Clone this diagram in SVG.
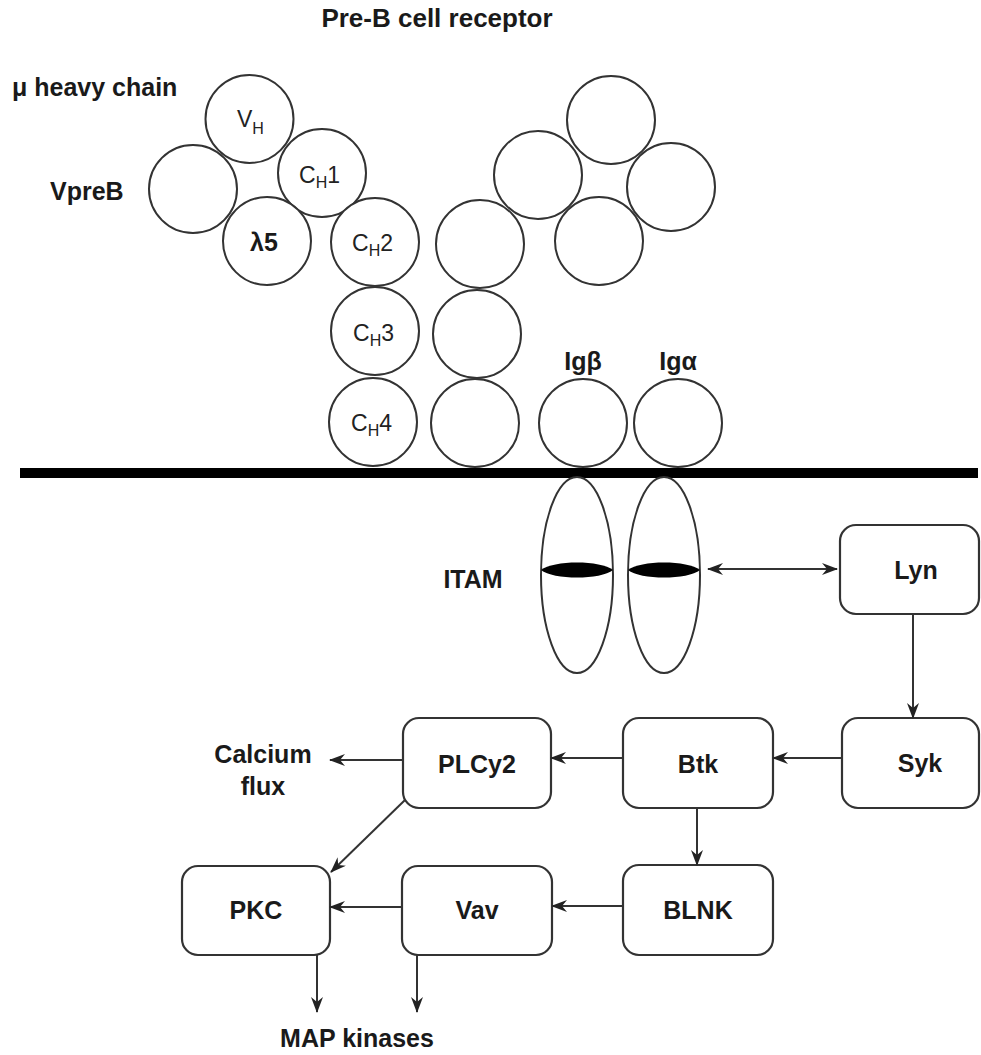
<svg xmlns="http://www.w3.org/2000/svg" width="981" height="1055" viewBox="0 0 981 1055">
<style>
.c{fill:#fff;stroke:#333;stroke-width:2}
.b{fill:#fff;stroke:#333;stroke-width:2.2}
.t{font-family:"Liberation Sans",Arial,sans-serif;fill:#1a1a1a}
.bold{font-weight:bold;font-size:25px}
.reg{font-size:23px;fill:#222}
.ln{fill:none;stroke:#333;stroke-width:2}
</style>
<defs>
<marker id="ah" viewBox="0 0 16 12" refX="15" refY="6" markerWidth="16" markerHeight="12" markerUnits="userSpaceOnUse" orient="auto-start-reverse">
<path d="M0,0 L16,6 L0,12 L5,6 z" fill="#222"/>
</marker>
</defs>
<rect width="981" height="1055" fill="#fff"/>
<text class="t bold" x="437" y="27" text-anchor="middle" style="font-size:26px">Pre-B cell receptor</text>
<text class="t bold" x="12" y="96">μ heavy chain</text>
<text class="t bold" x="50" y="200">VpreB</text>
<g id="heavy-left">
<circle id="VpreB" class="c" cx="193" cy="189" r="44"/>
<circle id="VH" class="c" cx="249.5" cy="119" r="44"/>
<circle id="CH1" class="c" cx="322" cy="173" r="44"/>
<circle id="l5" class="c" cx="267" cy="241" r="44"/>
<circle id="CH2" class="c" cx="375" cy="242" r="44"/>
<circle id="CH3" class="c" cx="375" cy="331" r="44"/>
<circle id="CH4" class="c" cx="373" cy="422" r="44"/>
<text class="t reg" x="237" y="127">V<tspan font-size="16" dy="7">H</tspan></text>
<text class="t reg" x="299" y="183">C<tspan font-size="16" dy="5">H</tspan><tspan dy="-5">1</tspan></text>
<text class="t bold" x="264" y="251" text-anchor="middle">λ5</text>
<text class="t reg" x="352" y="251">C<tspan font-size="16" dy="5">H</tspan><tspan dy="-5">2</tspan></text>
<text class="t reg" x="353" y="341">C<tspan font-size="16" dy="5">H</tspan><tspan dy="-5">3</tspan></text>
<text class="t reg" x="351" y="431">C<tspan font-size="16" dy="5">H</tspan><tspan dy="-5">4</tspan></text>
</g>
<g id="heavy-right">
<circle class="c" cx="538" cy="175" r="44"/>
<circle class="c" cx="611" cy="120" r="44"/>
<circle class="c" cx="671" cy="187" r="44"/>
<circle class="c" cx="599" cy="241" r="44"/>
<circle class="c" cx="480" cy="244" r="44"/>
<circle class="c" cx="477" cy="334" r="44"/>
<circle class="c" cx="475" cy="423" r="44"/>
</g>
<g id="Igb">
<circle class="c" cx="583" cy="423" r="44"/>
<text class="t bold" x="583" y="370" text-anchor="middle">Igβ</text>
</g>
<g id="Iga">
<circle class="c" cx="678" cy="423" r="44"/>
<text class="t bold" x="678" y="370" text-anchor="middle">Igα</text>
</g>
<rect id="membrane" x="20" y="468" width="958" height="10" fill="#000"/>
<g id="itam">
<ellipse class="c" cx="577" cy="575" rx="36" ry="98"/>
<ellipse class="c" cx="664" cy="575" rx="36" ry="98"/>
<path d="M541,570 C553,560 601,560 613,570 C601,580 553,580 541,570 z" fill="#000"/>
<path d="M628,570 C640,560 688,560 700,570 C688,580 640,580 628,570 z" fill="#000"/>
<text class="t bold" x="473" y="588" text-anchor="middle">ITAM</text>
</g>
<g id="Lyn"><rect class="b" x="840" y="525" width="139" height="89" rx="16"/><text class="t bold" x="916" y="579" text-anchor="middle">Lyn</text></g>
<g id="Syk"><rect class="b" x="842" y="718" width="137" height="90" rx="16"/><text class="t bold" x="920" y="772" text-anchor="middle">Syk</text></g>
<g id="Btk"><rect class="b" x="623" y="718" width="150" height="90" rx="16"/><text class="t bold" x="698" y="773" text-anchor="middle">Btk</text></g>
<g id="PLCy2"><rect class="b" x="403" y="718" width="148" height="90" rx="16"/><text class="t bold" x="477" y="773" text-anchor="middle">PLCy2</text></g>
<g id="BLNK"><rect class="b" x="623" y="865" width="150" height="90" rx="16"/><text class="t bold" x="698" y="919" text-anchor="middle">BLNK</text></g>
<g id="Vav"><rect class="b" x="402" y="866" width="150" height="89" rx="16"/><text class="t bold" x="477" y="919" text-anchor="middle">Vav</text></g>
<g id="PKC"><rect class="b" x="182" y="866" width="148" height="89" rx="16"/><text class="t bold" x="256" y="919" text-anchor="middle">PKC</text></g>
<g id="calcium"><text class="t bold" x="263" y="763" text-anchor="middle">Calcium</text><text class="t bold" x="263" y="795" text-anchor="middle">flux</text></g>
<g id="map"><text class="t bold" x="357" y="1047" text-anchor="middle">MAP kinases</text></g>
<g id="connectors">
<path class="ln" d="M708,569 H837" marker-start="url(#ah)" marker-end="url(#ah)"/>
<path class="ln" d="M913,614 V718" marker-end="url(#ah)"/>
<path class="ln" d="M842,758 H773" marker-end="url(#ah)"/>
<path class="ln" d="M623,758 H551" marker-end="url(#ah)"/>
<path class="ln" d="M403,760 H330" marker-end="url(#ah)"/>
<path class="ln" d="M405,800 L331,872" marker-end="url(#ah)"/>
<path class="ln" d="M697,808 V865" marker-end="url(#ah)"/>
<path class="ln" d="M623,906 H552" marker-end="url(#ah)"/>
<path class="ln" d="M402,907 H330" marker-end="url(#ah)"/>
<path class="ln" d="M317,955 V1012" marker-end="url(#ah)"/>
<path class="ln" d="M417,955 V1012" marker-end="url(#ah)"/>
</g>
</svg>
